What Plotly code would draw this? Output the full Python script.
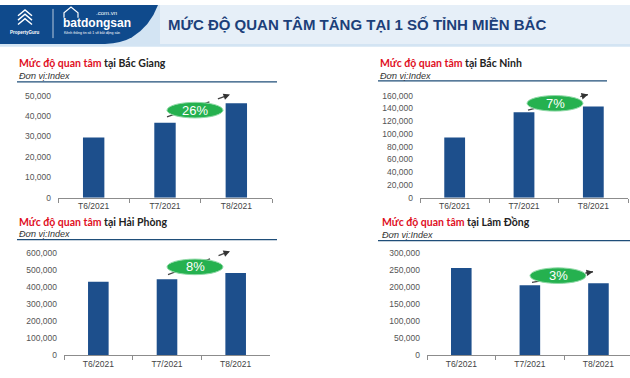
import plotly.graph_objects as go

W, H = 630, 378

# ---------------- data ----------------
months = ["T6/2021", "T7/2021", "T8/2021"]
provinces = ["Bắc Giang", "Bắc Ninh", "Hải Phòng", "Lâm Đồng"]
bac_giang = [29500, 36700, 46200]
bac_ninh = [94500, 134000, 143000]
hai_phong = [433000, 448000, 484000]
lam_dong = [257000, 206000, 212000]
y_max = [50000, 160000, 600000, 300000]
y_step = [10000, 20000, 100000, 50000]
series = [bac_giang, bac_ninh, hai_phong, lam_dong]

title_text = "MỨC ĐỘ QUAN TÂM TĂNG TẠI 1 SỐ TỈNH MIỀN BẮC"
unit_text = "Đơn vị:Index"

# ---------------- layout helpers (pixels -> paper) ----------------
def px(x):
    return x / W

def py(y):
    return 1 - y / H

BAR = "#1d4f8c"
NAVY = "#1c3f7a"
RED = "#e0101f"
GREEN = "#25b14f"

panels = [
    dict(x0=58, x1=272, yt=93, yb=198, rend=2.5, tx=17, ty=60, uy=73, lx0=17, lx1=277, ly=79,
         ell=(195, 108), tail=(167, 115), head=(230, 92)),
    dict(x0=420, x1=628, yt=93, yb=198, rend=2.5, tx=378, ty=60, uy=73, lx0=378, lx1=607, ly=78,
         ell=(555, 101), tail=(528, 108), head=(588, 92)),
    dict(x0=64, x1=270, yt=255, yb=360, rend=2.5, tx=17, ty=223, uy=235, lx0=17, lx1=277, ly=241,
         ell=(195, 269), tail=(168, 277), head=(230, 253)),
    dict(x0=427, x1=630, yt=255, yb=360, rend=2.46, tx=380, ty=223, uy=236, lx0=378, lx1=630, ly=242,
         ell=(558, 278), tail=(532, 285), head=(593, 274)),
]

fig = go.Figure()
shapes = []
annotations = []

# ---------------- header banner ----------------
shapes.append(dict(type="rect", xref="paper", yref="paper", x0=0, x1=1, y0=py(43), y1=1,
                   fillcolor="#d3e4f3", line=dict(width=0), layer="below"))
shapes.append(dict(type="rect", xref="paper", yref="paper", x0=px(160), x1=1, y0=py(40), y1=1,
                   fillcolor="#e6eff8", line=dict(width=0), layer="below"))
shapes.append(dict(type="path", xref="paper", yref="paper", layer="below",
                   path=(f"M 0 1 L {px(158)} 1 Q {px(150)} {py(22)} {px(132)} {py(33)} "
                         f"Q {px(122)} {py(39)} {px(105)} {py(40)} L 0 {py(40)} Z"),
                   fillcolor="#0f4a8c", line=dict(width=0)))
shapes.append(dict(type="line", xref="paper", yref="paper", x0=px(53), x1=px(53), y0=py(4), y1=py(34),
                   line=dict(color="rgba(255,255,255,0.7)", width=1)))
for i in range(3):
    cy = 5 + i * 4.5
    shapes.append(dict(type="path", xref="paper", yref="paper",
                       path=f"M {px(18)} {py(cy+6)} L {px(25)} {py(cy)} L {px(32)} {py(cy+6)}",
                       line=dict(color="white", width=1.5)))
shapes.append(dict(type="path", xref="paper", yref="paper",
                   path=f"M {px(64)} {py(13)} L {px(64)} {py(8)} L {px(71)} {py(2)} L {px(78)} {py(8)} L {px(78)} {py(13)}",
                   line=dict(color="white", width=1.2)))
annotations += [
    dict(x=px(25), y=py(28), xref="paper", yref="paper", text="<b>PropertyGuru</b>", showarrow=False,
         font=dict(size=4.5, color="white", family="Liberation Sans"), xanchor="center", yanchor="middle"),
    dict(x=px(61), y=py(19), xref="paper", yref="paper", text="<b>batdongsan</b>", showarrow=False,
         font=dict(size=12, color="white", family="Liberation Sans Narrow, Liberation Sans"),
         xanchor="left", yanchor="middle"),
    dict(x=px(119), y=py(8), xref="paper", yref="paper", text=".com.vn", showarrow=False,
         font=dict(size=6, color="white", family="Liberation Sans"), xanchor="right", yanchor="middle"),
    dict(x=px(62), y=py(29), xref="paper", yref="paper", text="Kênh thông tin số 1 về bất động sản", showarrow=False,
         font=dict(size=3.5, color="white", family="Liberation Sans"), xanchor="left", yanchor="middle"),
    dict(x=px(166), y=py(20), xref="paper", yref="paper", text="<b>" + title_text + "</b>", showarrow=False,
         font=dict(size=15, color=NAVY, family="Liberation Sans"), xanchor="left", yanchor="middle"),
]

# ---------------- panels ----------------
for i, (p, vals, name) in enumerate(zip(panels, series, provinces)):
    k = "" if i == 0 else str(i + 1)
    xa, ya = "x" + k, "y" + k
    fig.add_trace(go.Bar(x=months, y=vals, xaxis=xa, yaxis=ya, marker=dict(color=BAR, line=dict(width=0)),
                         width=0.3, showlegend=False, hoverinfo="x+y"))
    fig.layout["xaxis" + k] = dict(domain=[px(p["x0"]), px(p["x1"])], anchor=ya, type="category",
                                   range=[-0.5, p["rend"]], showline=True, linecolor="#8c8c8c", linewidth=1,
                                   ticks="outside", tickson="boundaries", ticklen=4, tickcolor="#8c8c8c",
                                   showgrid=False, zeroline=False,
                                   tickfont=dict(size=8.5, color="#444", family="Liberation Sans"))
    fig.layout["yaxis" + k] = dict(domain=[py(p["yb"]), py(p["yt"])], anchor=xa, range=[0, y_max[i]],
                                   dtick=y_step[i], tick0=0, tickformat=",d", showgrid=False, zeroline=False,
                                   showline=False, ticks="", ticklabelstandoff=6,
                                   tickfont=dict(size=8.5, color="#555", family="Liberation Sans"))
    annotations.append(dict(x=px(p["tx"]), y=py(p["ty"]), xref="paper", yref="paper", showarrow=False,
                            text=f"<b><span style='color:{RED}'>Mức độ quan tâm</span> tại {name}</b>",
                            font=dict(size=10.5, color="#222", family="Lato"), xanchor="left", yanchor="middle"))
    annotations.append(dict(x=px(p["tx"]), y=py(p["uy"]), xref="paper", yref="paper", showarrow=False,
                            text=f"<i>{unit_text}</i>", font=dict(size=9, color="#333", family="Liberation Sans"),
                            xanchor="left", yanchor="middle"))
    shapes.append(dict(type="line", xref="paper", yref="paper", x0=px(p["lx0"]), x1=px(p["lx1"]),
                       y0=py(p["ly"]), y1=py(p["ly"]), line=dict(color="#1f4e79", width=1.2)))
    (tx_, ty_), (hx_, hy_) = p["tail"], p["head"]
    shapes.append(dict(type="line", xref="paper", yref="paper", x0=px(tx_), y0=py(ty_), x1=px(hx_), y1=py(hy_),
                       line=dict(color="#444", width=1.3, dash="dash")))
    dx, dy = hx_ - tx_, hy_ - ty_
    L = (dx * dx + dy * dy) ** 0.5
    annotations.append(dict(x=px(hx_), y=py(hy_), xref="paper", yref="paper", showarrow=True, text="",
                            ax=-dx / L * 8, ay=-dy / L * 8, arrowhead=2, arrowsize=1, arrowwidth=1.3,
                            arrowcolor="#333"))
    cx, cy = p["ell"]
    shapes.append(dict(type="circle", xref="paper", yref="paper", x0=px(cx - 28), x1=px(cx + 28),
                       y0=py(cy + 8), y1=py(cy - 8), fillcolor=GREEN, line=dict(color="#8fd9a6", width=1)))
    pct = round((vals[2] / vals[1] - 1) * 100)
    annotations.append(dict(x=px(cx), y=py(cy), xref="paper", yref="paper", showarrow=False, text=f"{pct}%",
                            font=dict(size=13, color="white", family="Liberation Sans"),
                            xanchor="center", yanchor="middle"))

fig.update_layout(width=W, height=H, margin=dict(l=0, r=0, t=0, b=0), paper_bgcolor="white",
                  plot_bgcolor="rgba(0,0,0,0)", shapes=shapes, annotations=annotations, bargap=0.7)

fig.write_html("out.html", config={"displayModeBar": False},
               post_script="document.body.style.margin='0';")
